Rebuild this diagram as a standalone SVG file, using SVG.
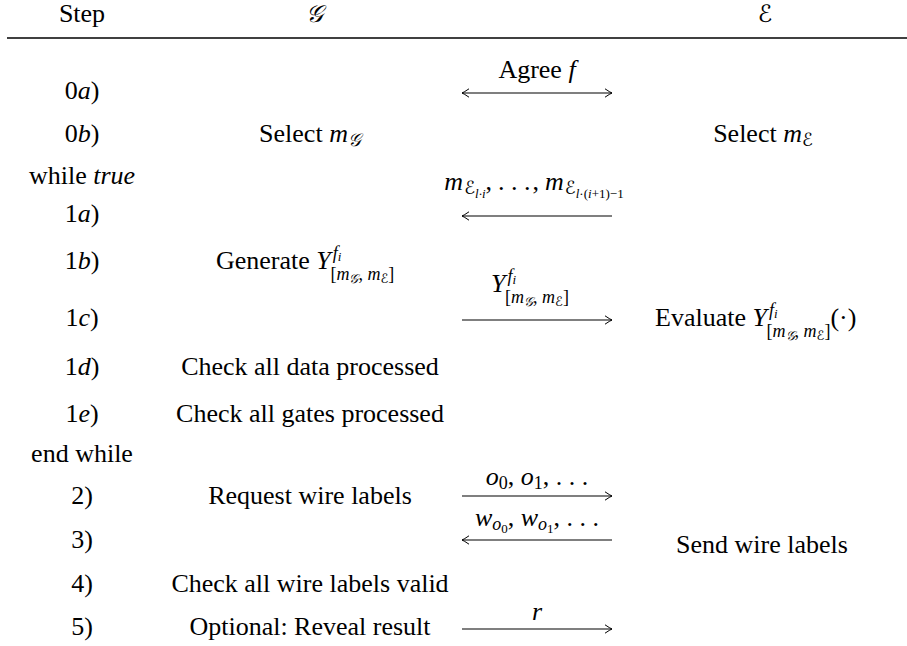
<svg xmlns="http://www.w3.org/2000/svg" width="907" height="646" viewBox="0 0 907 646">
<style>
text{font-family:"Liberation Serif","DejaVu Serif",serif;font-size:26px;fill:#000}
.c{text-anchor:middle}
.i{font-style:italic}
.s1{font-size:18px}
.s2{font-size:13px}
.cal{font-family:"DejaVu Sans","Noto Sans",sans-serif;font-style:italic}
.arr{stroke:#000;stroke-width:1.1;fill:none}
.rule{stroke:#000;stroke-width:1.3}
</style>
<defs>
<marker id="ah" viewBox="-8 -5 10 10" refX="0" refY="0" markerWidth="10" markerHeight="10" markerUnits="userSpaceOnUse" orient="auto-start-reverse">
<path d="M-7,-4.2 Q-2,-0.8 0,0 Q-2,0.8 -7,4.2" fill="none" stroke="#000" stroke-width="1"/>
</marker>
</defs>
<rect width="907" height="646" fill="#fff"/>

<g id="header">
<text class="c" x="82" y="22">Step</text>
<text class="c cal" x="314" y="22" style="font-size:24px">𝒢</text>
<text class="c cal" x="765" y="22" style="font-size:24px">ℰ</text>
<line class="rule" x1="7" y1="38" x2="907" y2="38"/>
</g>

<g id="steps">
<text class="c" x="82" y="99">0<tspan class="i">a</tspan>)</text>
<text class="c" x="82" y="142">0<tspan class="i">b</tspan>)</text>
<text class="c" x="82" y="184">while <tspan class="i">true</tspan></text>
<text class="c" x="82" y="222">1<tspan class="i">a</tspan>)</text>
<text class="c" x="82" y="269">1<tspan class="i">b</tspan>)</text>
<text class="c" x="82" y="326">1<tspan class="i">c</tspan>)</text>
<text class="c" x="82" y="375">1<tspan class="i">d</tspan>)</text>
<text class="c" x="82" y="422">1<tspan class="i">e</tspan>)</text>
<text class="c" x="82" y="462">end while</text>
<text class="c" x="82" y="504">2)</text>
<text class="c" x="82" y="548">3)</text>
<text class="c" x="82" y="592">4)</text>
<text class="c" x="82" y="635">5)</text>
</g>

<g id="g-select"><text class="c" x="310" y="142">Select <tspan class="i">m</tspan><tspan class="s1 cal" dy="4">𝒢</tspan></text></g>
<g id="e-select"><text class="c" x="763" y="142">Select <tspan class="i">m</tspan><tspan class="s1 cal" dy="4">ℰ</tspan></text></g>
<g id="g-generate"><text x="216" y="269">Generate <tspan class="i">Y</tspan><tspan class="s1 i" dx="2" dy="-10">f</tspan><tspan class="s2 i" dy="2">i</tspan><tspan class="s1" dx="-11" dy="19">[</tspan><tspan class="s1 i">m</tspan><tspan class="s2 cal" dy="3">𝒢</tspan><tspan class="s1" dy="-3">, </tspan><tspan class="s1 i">m</tspan><tspan class="s2 cal" dy="3">ℰ</tspan><tspan class="s1" dy="-3">]</tspan></text></g>
<g id="e-evaluate"><text x="655" y="326">Evaluate <tspan class="i">Y</tspan><tspan class="s1 i" dx="2" dy="-10">f</tspan><tspan class="s2 i" dy="2">i</tspan><tspan class="s1" dx="-11" dy="19">[</tspan><tspan class="s1 i">m</tspan><tspan class="s2 cal" dy="3">𝒢</tspan><tspan class="s1" dy="-3">, </tspan><tspan class="s1 i">m</tspan><tspan class="s2 cal" dy="3">ℰ</tspan><tspan class="s1" dy="-3">]</tspan><tspan dy="-11">(·)</tspan></text></g>
<g id="g-check-data"><text class="c" x="310" y="375">Check all data processed</text></g>
<g id="g-check-gates"><text class="c" x="310" y="422">Check all gates processed</text></g>
<g id="g-request"><text class="c" x="310" y="504">Request wire labels</text></g>
<g id="e-send"><text class="c" x="762" y="553">Send wire labels</text></g>
<g id="g-check-valid"><text class="c" x="310" y="592">Check all wire labels valid</text></g>
<g id="g-reveal"><text class="c" x="310" y="635">Optional: Reveal result</text></g>

<g id="connectors">
<line class="arr" x1="462" y1="93" x2="612" y2="93" marker-start="url(#ah)" marker-end="url(#ah)"/>
<text class="c" x="537" y="78">Agree <tspan class="i">f</tspan></text>

<line class="arr" x1="612" y1="216" x2="462" y2="216" marker-end="url(#ah)"/>
<text class="c" x="534" y="190"><tspan class="i">m</tspan><tspan class="s1 cal" dy="4" dx="1">ℰ</tspan><tspan class="s2 i" dy="4">l·i</tspan><tspan dy="-8">,</tspan><tspan dx="6">. . .</tspan><tspan dx="2">,</tspan><tspan class="i" dx="6">m</tspan><tspan class="s1 cal" dy="4" dx="1">ℰ</tspan><tspan class="s2" dy="4"><tspan class="i">l</tspan>·(<tspan class="i">i</tspan>+1)−1</tspan></text>

<line class="arr" x1="462" y1="320" x2="612" y2="320" marker-end="url(#ah)"/>
<text x="491" y="292"><tspan class="i">Y</tspan><tspan class="s1 i" dx="2" dy="-10">f</tspan><tspan class="s2 i" dy="2">i</tspan><tspan class="s1" dx="-11" dy="19">[</tspan><tspan class="s1 i">m</tspan><tspan class="s2 cal" dy="3">𝒢</tspan><tspan class="s1" dy="-3">, </tspan><tspan class="s1 i">m</tspan><tspan class="s2 cal" dy="3">ℰ</tspan><tspan class="s1" dy="-3">]</tspan></text>

<line class="arr" x1="462" y1="496" x2="612" y2="496" marker-end="url(#ah)"/>
<text class="c" x="537" y="485"><tspan class="i">o</tspan><tspan class="s1" dy="4">0</tspan><tspan dy="-4">, </tspan><tspan class="i">o</tspan><tspan class="s1" dy="4">1</tspan><tspan dy="-4">, . . .</tspan></text>

<line class="arr" x1="612" y1="540" x2="462" y2="540" marker-end="url(#ah)"/>
<text class="c" x="537" y="526"><tspan class="i">w</tspan><tspan class="s1 i" dy="4">o</tspan><tspan class="s2" dy="3">0</tspan><tspan dy="-7">, </tspan><tspan class="i">w</tspan><tspan class="s1 i" dy="4">o</tspan><tspan class="s2" dy="3">1</tspan><tspan dy="-7">, . . .</tspan></text>

<line class="arr" x1="462" y1="629" x2="612" y2="629" marker-end="url(#ah)"/>
<text class="c i" x="537" y="620">r</text>
</g>
</svg>
